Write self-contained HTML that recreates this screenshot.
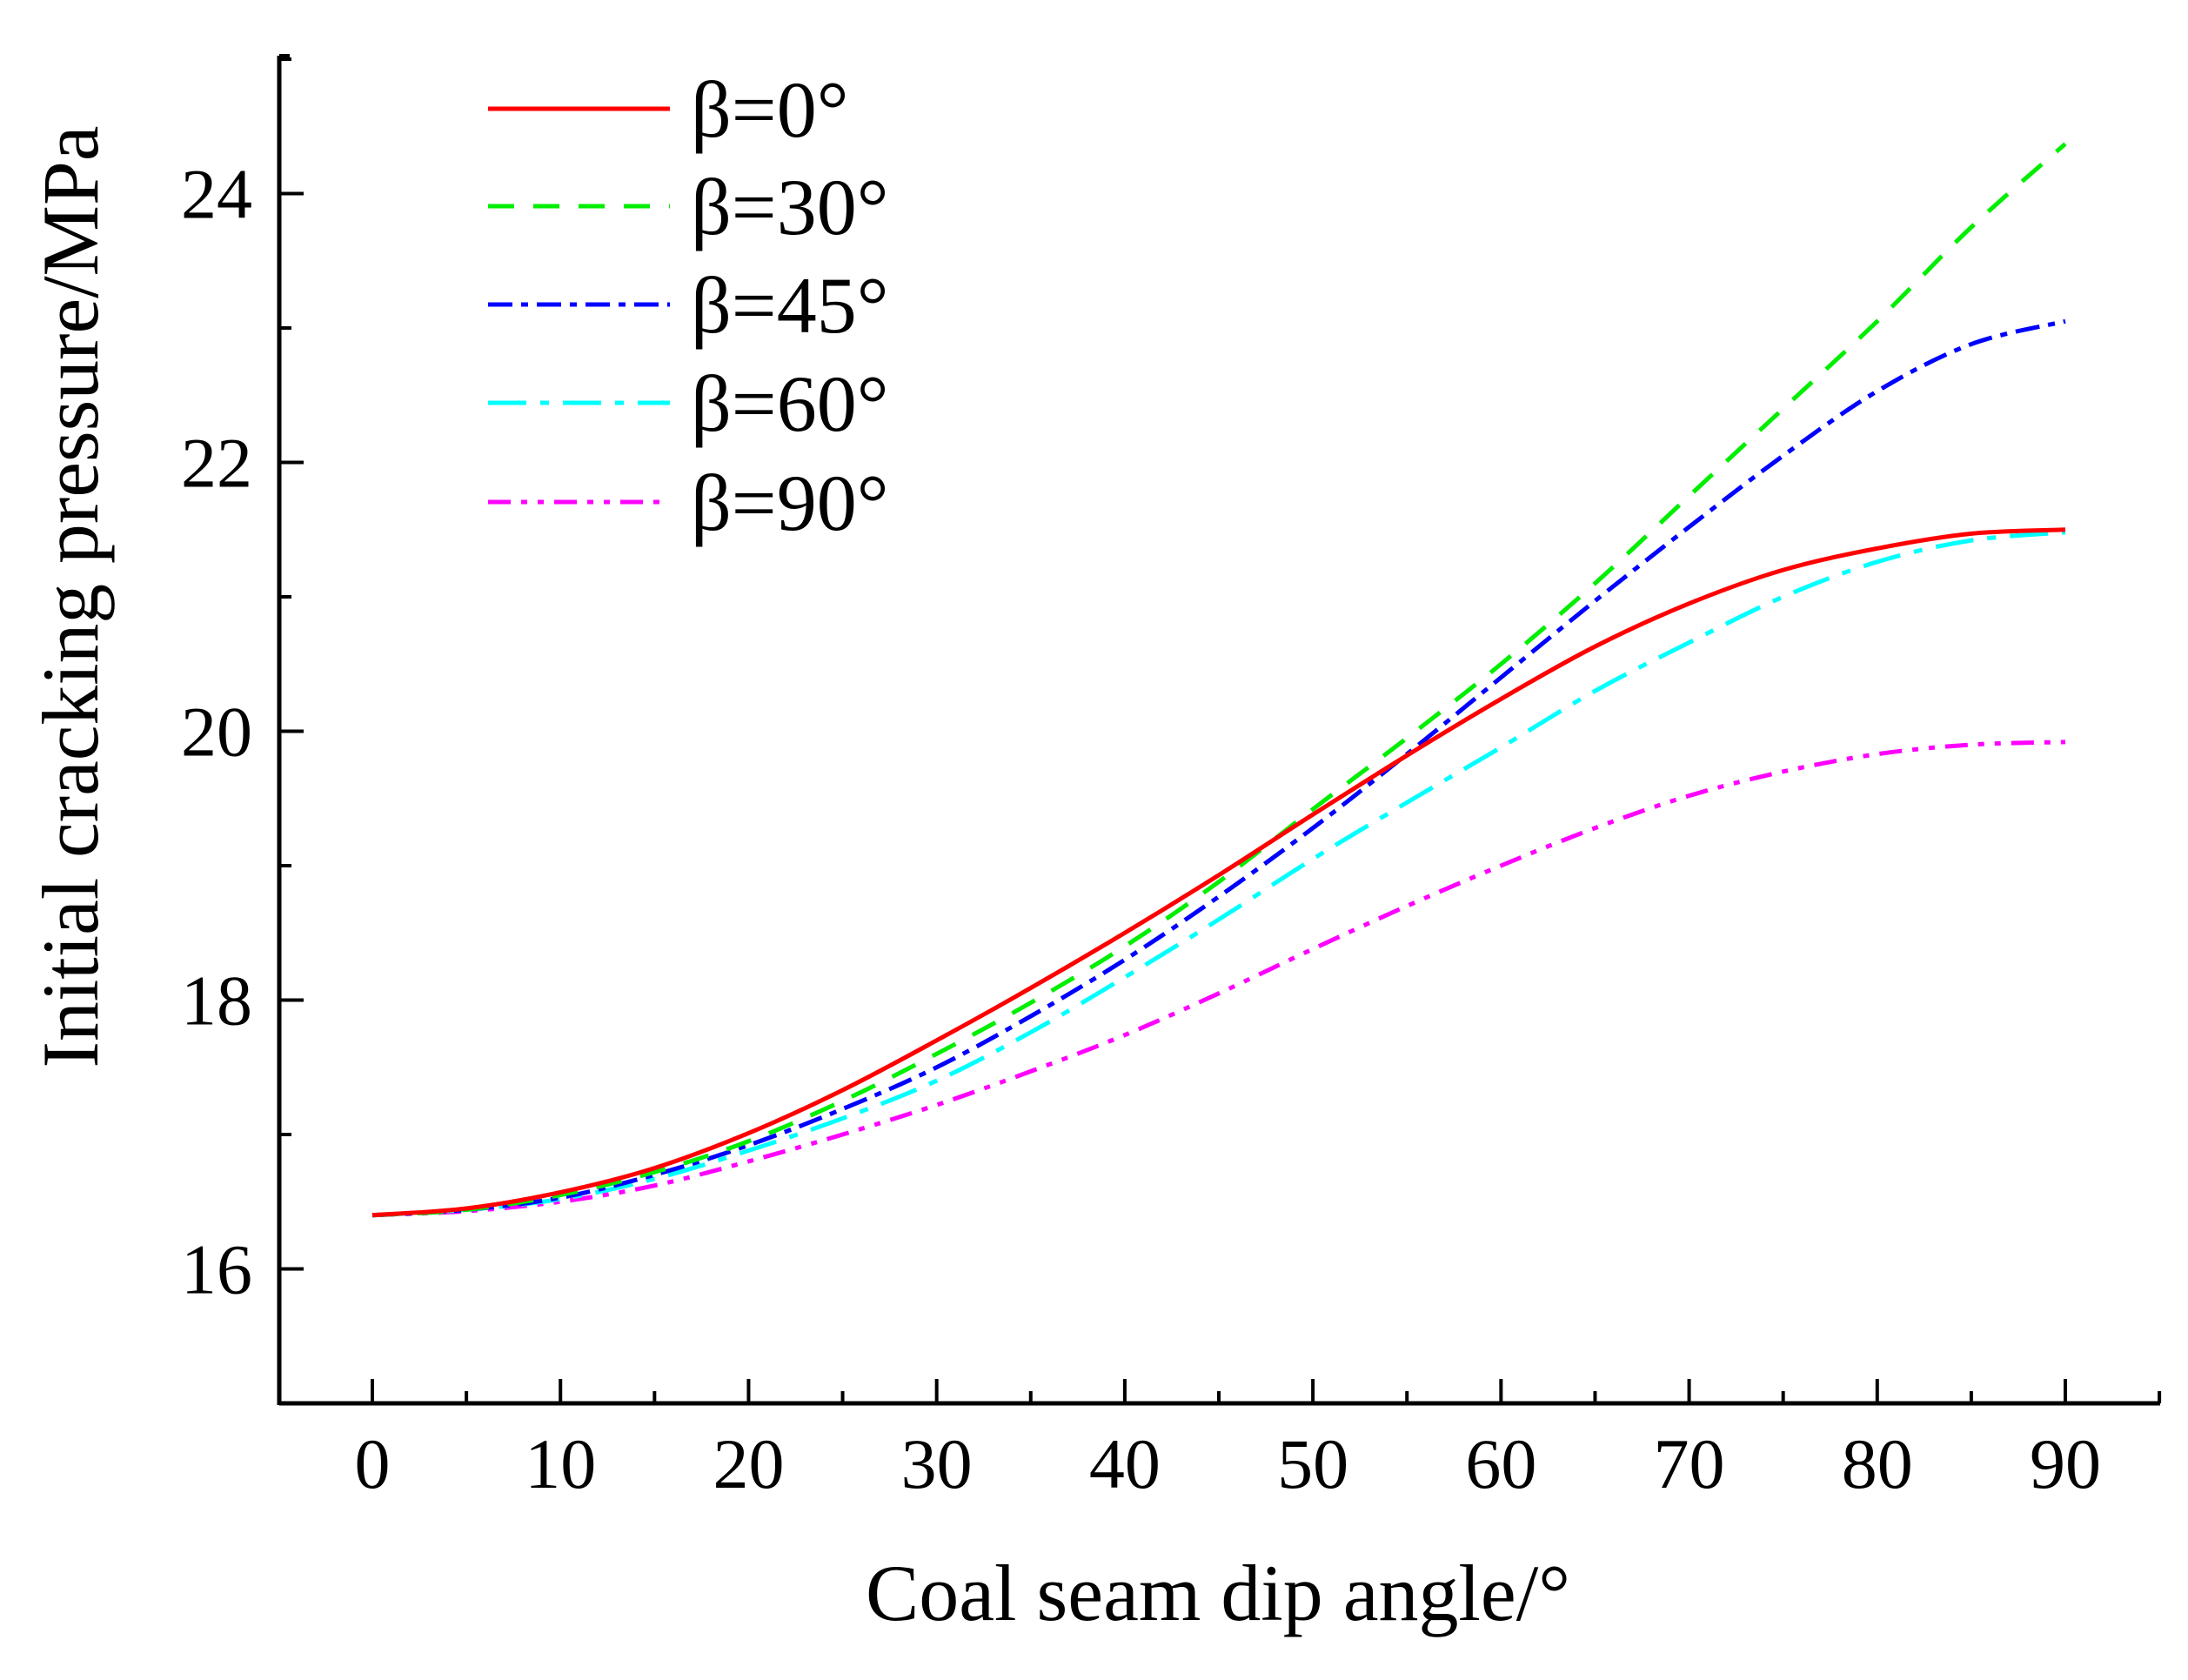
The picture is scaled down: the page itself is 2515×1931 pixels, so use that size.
<!DOCTYPE html>
<html><head><meta charset="utf-8"><style>
html,body{margin:0;padding:0;background:#fff;}
svg{display:block;}
text{font-family:"Liberation Serif","Times New Roman",serif;fill:#000;}
</style></head><body>
<svg id="chart" width="2515" height="1931" viewBox="0 0 2515 1931" xmlns="http://www.w3.org/2000/svg">
<g id="axes"></g>
<g id="series"></g>
<g id="legend"></g>
<text x="1400" y="1862" font-size="92" text-anchor="middle" textLength="810" lengthAdjust="spacingAndGlyphs">Coal seam dip angle/°</text>
<text transform="translate(112,686) rotate(-90)" x="0" y="0" font-size="92" text-anchor="middle" textLength="1083" lengthAdjust="spacingAndGlyphs">Initial cracking pressure/MPa</text>
</svg>
<script>
const xValues = [0,5,10,15,20,25,30,35,40,45,50,55,60,65,70,75,80,85,90];
const beta0  = [16.4,16.45,16.57,16.75,17.01,17.33,17.7,18.09,18.5,18.93,19.38,19.82,20.24,20.63,20.95,21.2,21.36,21.47,21.5];
const beta30 = [16.4,16.44,16.55,16.72,16.95,17.25,17.6,17.98,18.4,18.88,19.42,19.95,20.5,21.1,21.75,22.4,23.05,23.75,24.37];
const beta45 = [16.4,16.44,16.53,16.7,16.92,17.19,17.5,17.88,18.3,18.77,19.28,19.83,20.4,20.97,21.52,22.05,22.53,22.88,23.05];
const beta60 = [16.4,16.44,16.52,16.67,16.88,17.12,17.4,17.76,18.17,18.6,19.05,19.47,19.88,20.3,20.66,21.0,21.26,21.42,21.48];
const beta90 = [16.4,16.43,16.5,16.62,16.8,17.0,17.22,17.47,17.74,18.05,18.38,18.7,19.0,19.28,19.52,19.7,19.83,19.9,19.92];
const xTicks = [0,10,20,30,40,50,60,70,80,90];
const yTicks = [16,18,20,22,24];
const legendLabels = ["β=0°","β=30°","β=45°","β=60°","β=90°"];

const NS="http://www.w3.org/2000/svg";
function X(v){return 428+(v-0)*(2374-428)/90;}
function Y(v){return 1613-(v-15)*154.5;}
function mk(tag,attrs,parent){const e=document.createElementNS(NS,tag);for(const k in attrs)e.setAttribute(k,attrs[k]);parent.appendChild(e);return e;}
const axes=document.getElementById('axes');
let l=mk('line',{x1:321,y1:1613,x2:2483,y2:1613,stroke:'#000','stroke-width':5},axes);


l=mk('line',{x1:321,y1:64,x2:321,y2:1615,stroke:'#000','stroke-width':5},axes);


mk('line',{x1:321,y1:64,x2:333,y2:64,stroke:'#000','stroke-width':4},axes);
for(let v=0;v<=95;v+=5){
  const major=v%10===0;
  const t=mk('line',{x1:X(v),y1:1613,x2:X(v),y2:major?1585:1599,stroke:'#000','stroke-width':4},axes);
  
  
}
xTicks.forEach(v=>{
  const t=mk('text',{x:X(v),y:1710,'font-size':82,'text-anchor':'middle'},axes);
  t.textContent=v;
  
  
});
for(let v=16;v<=25;v+=1){
  const major=v%2===0;
  const t=mk('line',{x1:321,y1:Y(v),x2:major?349:335,y2:Y(v),stroke:'#000','stroke-width':4},axes);
  
  
}
yTicks.forEach(v=>{
  const t=mk('text',{x:290,y:Y(v)+28,'font-size':82,'text-anchor':'end'},axes);
  t.textContent=v;
  
  
});
const seriesData=[beta0,beta30,beta45,beta60,beta90];
const colors=['#ff0000','#00ee00','#0000ff','#00ffff','#ff00ff'];
const dashes=['none','30 22','28 10 8 10','44 16 10 16','26 12 7 12 7 12'];
const names=['series-beta-0','series-beta-30','series-beta-45','series-beta-60','series-beta-90'];
const sg=document.getElementById('series');
function smoothPath(xs,ys){
  const pts=xs.map((x,i)=>[X(x),Y(ys[i])]);
  let d='M'+pts[0][0]+','+pts[0][1];
  for(let i=0;i<pts.length-1;i++){
    const p0=pts[Math.max(0,i-1)],p1=pts[i],p2=pts[i+1],p3=pts[Math.min(pts.length-1,i+2)];
    const c1=[p1[0]+(p2[0]-p0[0])/6,p1[1]+(p2[1]-p0[1])/6];
    const c2=[p2[0]-(p3[0]-p1[0])/6,p2[1]-(p3[1]-p1[1])/6];
    d+=' C'+c1[0]+','+c1[1]+' '+c2[0]+','+c2[1]+' '+p2[0]+','+p2[1];
  }
  return d;
}
[4,3,2,1,0].forEach(i=>{
  const p=mk('path',{d:smoothPath(xValues,seriesData[i]),fill:'none',stroke:colors[i],'stroke-width':5,'stroke-dasharray':dashes[i]},sg);
  
  
});
const lg=document.getElementById('legend');
const rowY=[125,237,350,463,577];
legendLabels.forEach((lab,i)=>{
  const ln=mk('line',{x1:561,y1:rowY[i],x2:770,y2:rowY[i],stroke:colors[i],'stroke-width':5,'stroke-dasharray':dashes[i]},lg);
  
  
  const t=mk('text',{x:794,y:rowY[i]+32,'font-size':92},lg);
  t.textContent=lab;
  
  
});
</script>
</body></html>
